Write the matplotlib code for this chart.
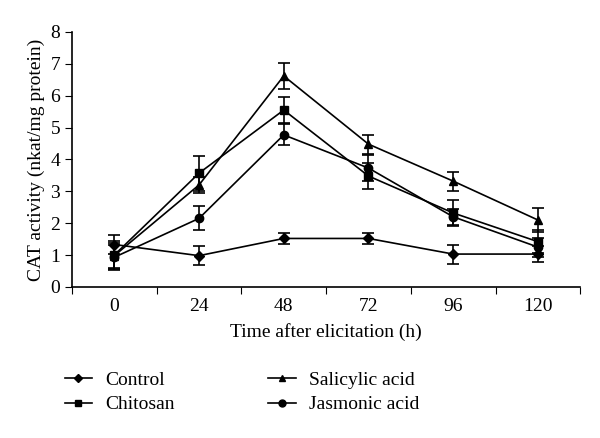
import matplotlib
matplotlib.use('Agg')
import matplotlib.pyplot as plt
from matplotlib.lines import Line2D
import numpy as np

plt.rcParams['font.family'] = ['Liberation Serif', 'DejaVu Serif']

# Datos
horas = ['0', '24', '48', '72', '96', '120']

control = [1.33, 0.98, 1.52, 1.52, 1.03, 1.03]
control_err = [0.30, 0.30, 0.17, 0.18, 0.30, 0.25]

chitosan = [1.0, 3.57, 5.55, 3.48, 2.32, 1.42]
chitosan_err = [0.45, 0.55, 0.40, 0.40, 0.40, 0.35]

salicylic = [0.98, 3.2, 6.62, 4.48, 3.32, 2.1]
salicylic_err = [0.40, 0.25, 0.40, 0.30, 0.30, 0.38]

jasmonic = [0.93, 2.15, 4.77, 3.73, 2.2, 1.25]
jasmonic_err = [0.40, 0.38, 0.33, 0.40, 0.25, 0.30]

series = [
    ('Control', control, control_err, 'D', 5),
    ('Chitosan', chitosan, chitosan_err, 's', 6),
    ('Salicylic acid', salicylic, salicylic_err, '^', 6),
    ('Jasmonic acid', jasmonic, jasmonic_err, 'o', 6),
]

fig = plt.figure(figsize=(6, 4.38), dpi=100)
ax = fig.add_axes([0.12, 0.345, 0.847, 0.582])

x = np.arange(len(horas))
handles = []
for nombre, vals, err, mk, ms in series:
    ax.errorbar(x, vals, yerr=err, marker=mk, markersize=ms, color='black', lw=1.2,
                elinewidth=1.2, capsize=4, capthick=1.2)
    handles.append(Line2D([], [], color='black', lw=1.2, marker=mk, markersize=ms - 1, label=nombre))

ax.set_xlim(-0.5, 5.5)
ax.set_ylim(0, 8)
ax.set_yticks(range(0, 9))
ax.set_xticks(np.arange(-0.5, 6, 1))
ax.set_xticklabels([])
ax.set_xticks(x, minor=True)
ax.set_xticklabels(horas, minor=True)
ax.tick_params(axis='x', which='minor', length=0, pad=8, labelsize=14)
ax.tick_params(axis='x', which='major', length=5, direction='out')
ax.tick_params(axis='y', length=5, direction='out', labelsize=14)

for lado in ['top', 'right']:
    ax.spines[lado].set_visible(False)
for lado in ['left', 'bottom']:
    ax.spines[lado].set_linewidth(1.2)

ax.set_xlabel('Time after elicitation (h)', fontsize=14, labelpad=6)
ax.set_ylabel('CAT activity (nkat/mg protein)', fontsize=14)

fig.legend(handles, [h.get_label() for h in handles],
           loc='upper left', bbox_to_anchor=(0.108, 0.152), ncol=2, frameon=False,
           fontsize=14, columnspacing=4.8, handlelength=1.4, labelspacing=0.35,
           handletextpad=0.7, borderpad=0, borderaxespad=0)

plt.savefig('out.png', dpi=100)
